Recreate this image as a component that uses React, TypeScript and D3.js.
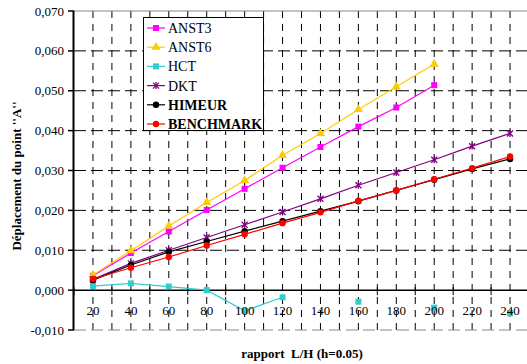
import React from "react";
import * as d3 from "d3";

const categories = [20, 40, 60, 80, 100, 120, 140, 160, 180, 200, 220, 240];
const anst3 = [0.0036, 0.0093, 0.0147, 0.0201, 0.0254, 0.0307, 0.0359, 0.041, 0.0458, 0.0514, null, null];
const anst6 = [0.0038, 0.0099, 0.0161, 0.022, 0.0275, 0.0338, 0.0393, 0.0453, 0.051, 0.0567, null, null];
const hct = [0.001, 0.0017, 0.0009, 0.0, -0.0052, -0.0018, null, -0.0029, null, -0.0044, null, -0.0058];
const dkt = [0.0027, 0.0067, 0.01, 0.0132, 0.0164, 0.0196, 0.0229, 0.0263, 0.0295, 0.0327, 0.0361, 0.0393];
const himeur = [0.0025, 0.0063, 0.0096, 0.0122, 0.0148, 0.0173, 0.0198, 0.0223, 0.025, 0.0277, 0.0304, 0.0329];
const benchmark = [0.0028, 0.0056, 0.0083, 0.0112, 0.014, 0.0168, 0.0195, 0.0224, 0.025, 0.0278, 0.0306, 0.0335];
const yTicks = [-0.01, 0, 0.01, 0.02, 0.03, 0.04, 0.05, 0.06, 0.07];

type Series = { name: string; values: (number | null)[]; color: string; marker: string; bold: boolean };
const seriesList: Series[] = [
  { name: "ANST3", values: anst3, color: "#FF00FF", marker: "square", bold: false },
  { name: "ANST6", values: anst6, color: "#FFCC00", marker: "triangle", bold: false },
  { name: "HCT", values: hct, color: "#33CCCC", marker: "square", bold: false },
  { name: "DKT", values: dkt, color: "#800080", marker: "star", bold: false },
  { name: "HIMEUR", values: himeur, color: "#000000", marker: "circle", bold: true },
  { name: "BENCHMARK", values: benchmark, color: "#FF0000", marker: "circle", bold: true },
];

const FONT = "'Liberation Serif', 'Times New Roman', serif";

function Marker({ type, x, y, color }: { type: string; x: number; y: number; color: string }) {
  if (type === "square") return <rect x={x - 3} y={y - 3} width={6} height={6} fill={color} />;
  if (type === "triangle") {
    const p = d3.symbol(d3.symbolTriangle, 36)();
    return <path d={p || ""} transform={`translate(${x},${y})`} fill={color} />;
  }
  if (type === "star") {
    return (
      <g stroke={color} strokeWidth={1.3} transform={`translate(${x},${y})`}>
        <line x1={-3} y1={-3} x2={3} y2={3} />
        <line x1={-3} y1={3} x2={3} y2={-3} />
        <line x1={0} y1={-3.5} x2={0} y2={3.5} />
      </g>
    );
  }
  return <circle cx={x} cy={y} r={3.2} fill={color} />;
}

export default function App() {
  const W = 527, H = 364;
  const left = 74, right = 529, top = 11, bottom = 330;
  const x = d3.scaleBand<number>().domain(categories).range([left, right]);
  const y = d3.scaleLinear().domain([-0.01, 0.07]).range([bottom, top]);
  const bw = x.bandwidth();
  const cx = (c: number) => (x(c) as number) + bw / 2;
  const vgrid: number[] = [];
  for (let v = left + bw / 2; v <= W; v += bw / 2) vgrid.push(v);

  const fmt = (v: number) => (v < 0 ? "-" : "") + Math.abs(v).toFixed(3).replace(".", ",");

  return (
    <svg width={W} height={H} style={{ position: "absolute", left: 0, top: 0, background: "#fff" }} fontFamily={FONT}>
      {/* vertical grid */}
      {vgrid.map((v, i) => (
        <line key={"vg" + i} x1={v} x2={v} y1={top} y2={bottom} stroke="#000" strokeWidth={1} strokeDasharray="7,6" />
      ))}
      {/* horizontal grid */}
      {yTicks.map((t, i) =>
        t === 0 ? null : (
          <line
            key={"hg" + i}
            x1={left}
            x2={W}
            y1={y(t)}
            y2={y(t)}
            stroke={t === 0.07 || t === -0.01 ? "#888" : "#000"}
            strokeWidth={1}
            strokeDasharray={t === 0.07 ? "" : "12,5"}
          />
        )
      )}
      {/* zero line */}
      <line x1={left} x2={W} y1={y(0)} y2={y(0)} stroke="#000" strokeWidth={1.5} />
      {/* x ticks at band edges */}
      {categories.map((c, i) => (
        <line key={"xt" + i} x1={x(c) as number} x2={x(c) as number} y1={y(0) - 3} y2={y(0) + 5} stroke="#000" strokeWidth={1} />
      ))}
      {/* y axis */}
      <line x1={left - 0.5} x2={left - 0.5} y1={top} y2={bottom} stroke="#000" strokeWidth={2} />
      {yTicks.map((t, i) => (
        <g key={"yt" + i}>
          <line x1={left - 6} x2={left} y1={y(t)} y2={y(t)} stroke="#000" strokeWidth={1.5} />
          <text x={64} y={y(t) + 4.5} textAnchor="end" fontSize={13} fill="#000">
            {fmt(t)}
          </text>
        </g>
      ))}
      {/* series */}
      {seriesList.map((s) => {
        const data = categories.map((c, i) => ({ c, v: s.values[i] }));
        const line = d3
          .line<{ c: number; v: number | null }>()
          .defined((d) => d.v != null)
          .x((d) => cx(d.c))
          .y((d) => y(d.v as number));
        return (
          <g key={s.name}>
            <path d={line(data) || ""} fill="none" stroke={s.color} strokeWidth={1.2} />
            {data
              .filter((d) => d.v != null)
              .map((d, i) => (
                <Marker key={i} type={s.marker} x={cx(d.c)} y={y(d.v as number)} color={s.color} />
              ))}
          </g>
        );
      })}
      {/* x labels */}
      {categories.map((c, i) => (
        <text key={"xl" + i} x={cx(c)} y={315} textAnchor="middle" fontSize={13} fill="#000">
          {c}
        </text>
      ))}
      {/* legend */}
      <rect x={143.5} y={17.5} width={120} height={113} fill="#fff" stroke="#000" strokeWidth={1} />
      {seriesList.map((s, i) => {
        const ly = 28 + i * 19.2;
        return (
          <g key={"lg" + s.name}>
            <line x1={147} x2={165} y1={ly} y2={ly} stroke={s.color} strokeWidth={1.2} />
            <Marker type={s.marker} x={156} y={ly} color={s.color} />
            <text x={168} y={ly + 5} fontSize={14} fontWeight={s.bold ? "bold" : "normal"} fill="#000">
              {s.name}
            </text>
          </g>
        );
      })}
      {/* axis titles */}
      <text
        transform={`translate(21,176) rotate(-90)`}
        textAnchor="middle"
        fontSize={13}
        fontWeight="bold"
        fill="#000"
      >
        Déplacement du point ''A''
      </text>
      <text x={302} y={358} textAnchor="middle" fontSize={13} fontWeight="bold" fill="#000" style={{ whiteSpace: "pre" }}>
        {"rapport  L/H (h=0.05)"}
      </text>
    </svg>
  );
}
